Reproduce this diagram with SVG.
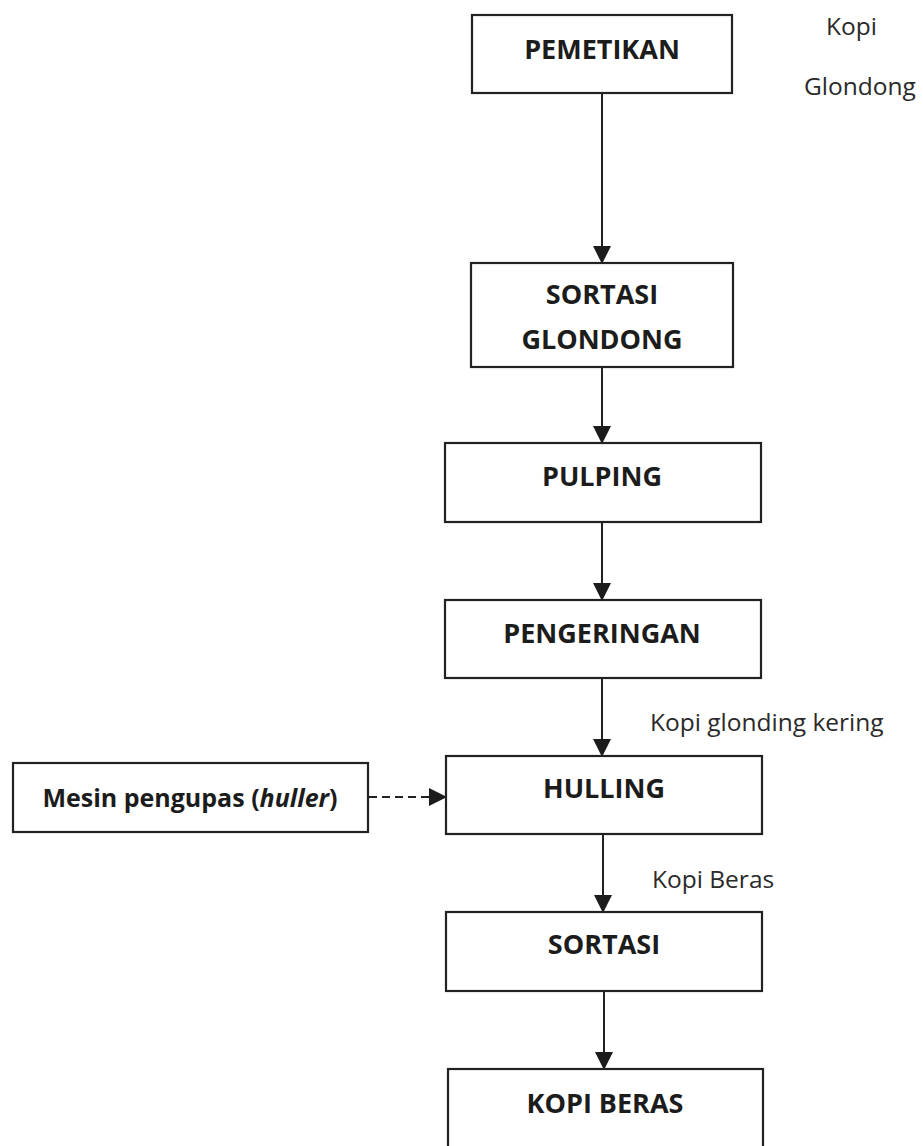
<svg xmlns="http://www.w3.org/2000/svg" width="923" height="1146" viewBox="0 0 923 1146">
<style>
.box{fill:#fff;stroke:#222;stroke-width:2.2}
.t{font-family:"Open Sans","Liberation Sans",sans-serif;font-weight:700;font-size:27px;fill:#1c1c1c;text-anchor:middle}
.l{font-family:"Open Sans","Liberation Sans",sans-serif;font-size:24.5px;fill:#2a2a2a}
.c{stroke:#222;stroke-width:2;fill:none}
</style>
<defs>
<marker id="ah" markerUnits="userSpaceOnUse" markerWidth="18" markerHeight="18" viewBox="0 0 18 18" refX="17" refY="9" orient="auto">
<path d="M0,0 L18,9 L0,18 Z" fill="#1c1c1c"/>
</marker>
</defs>
<rect width="923" height="1146" fill="#fff"/>
<g id="connectors">
<line class="c" x1="602" y1="93" x2="602" y2="263" marker-end="url(#ah)"/>
<line class="c" x1="602" y1="367" x2="602" y2="443" marker-end="url(#ah)"/>
<line class="c" x1="602" y1="522" x2="602" y2="600" marker-end="url(#ah)"/>
<line class="c" x1="602" y1="678" x2="602" y2="756" marker-end="url(#ah)"/>
<line class="c" x1="603" y1="834" x2="603" y2="912" marker-end="url(#ah)"/>
<line class="c" x1="604" y1="991" x2="604" y2="1069" marker-end="url(#ah)"/>
<line class="c" x1="369" y1="797" x2="446" y2="797" stroke-dasharray="8 5" marker-end="url(#ah)"/>
</g>
<g id="pemetikan"><rect class="box" x="472" y="15" width="260" height="78"/><text class="t" x="602" y="59">PEMETIKAN</text></g>
<g id="sortasi-glondong"><rect class="box" x="471" y="263" width="262" height="104"/><text class="t" x="602" y="304">SORTASI</text><text class="t" x="602" y="349">GLONDONG</text></g>
<g id="pulping"><rect class="box" x="445" y="443" width="316" height="79"/><text class="t" x="602" y="486">PULPING</text></g>
<g id="pengeringan"><rect class="box" x="445" y="600" width="316" height="78"/><text class="t" x="602" y="643">PENGERINGAN</text></g>
<g id="hulling"><rect class="box" x="446" y="756" width="316" height="78"/><text class="t" x="604" y="798">HULLING</text></g>
<g id="sortasi"><rect class="box" x="446" y="912" width="316" height="79"/><text class="t" x="604" y="954">SORTASI</text></g>
<g id="kopi-beras"><rect class="box" x="448" y="1069" width="315" height="90"/><text class="t" x="605" y="1113">KOPI BERAS</text></g>
<g id="mesin"><rect class="box" x="13" y="763" width="355" height="69"/><text class="t" x="190" y="807" style="font-size:25px">Mesin pengupas (<tspan font-style="italic">huller</tspan>)</text></g>
<g id="labels">
<text class="l" x="826" y="35">Kopi</text>
<text class="l" x="804" y="95">Glondong</text>
<text class="l" x="650" y="731">Kopi glonding kering</text>
<text class="l" x="652" y="888">Kopi Beras</text>
</g>
</svg>
